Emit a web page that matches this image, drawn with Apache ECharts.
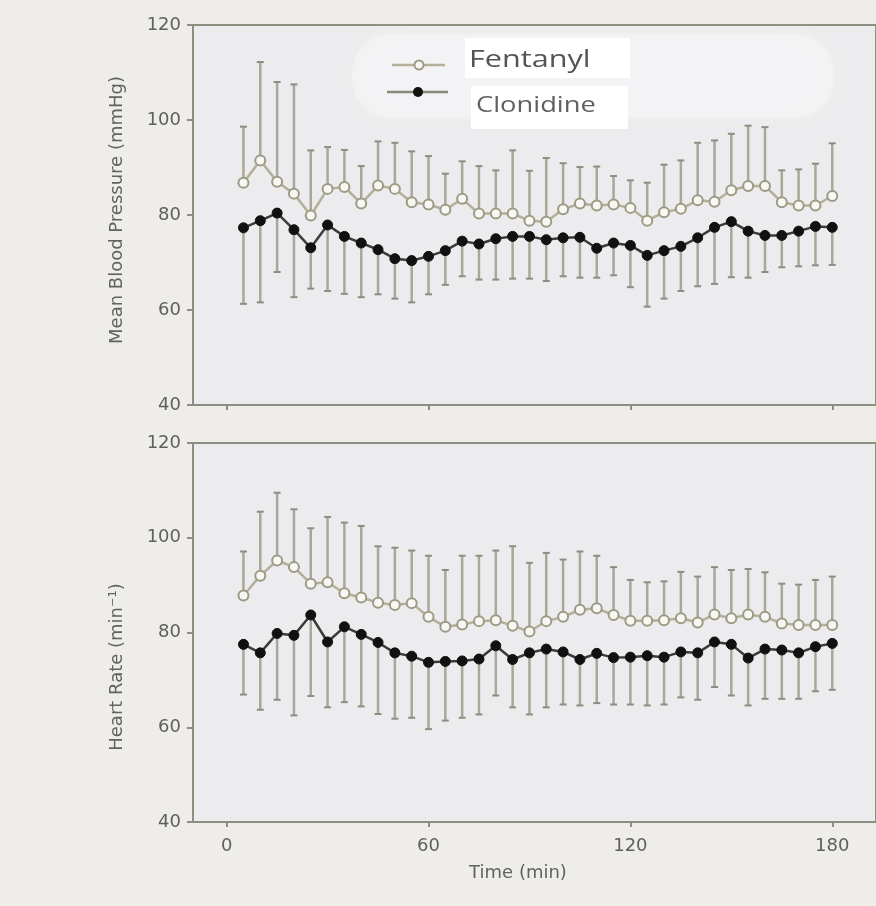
<!DOCTYPE html>
<html>
<head>
<meta charset="utf-8">
<script src="https://cdn.jsdelivr.net/npm/echarts@6/dist/echarts.min.js"></script>
<style>
  html, body { margin: 0; padding: 0; background: #eeede9; }
  #chart { width: 876px; height: 906px; }
</style>
</head>
<body>
<div id="chart"></div>
<script>
// Sampling times (min)
const timeMin = [5, 10, 15, 20, 25, 30, 35, 40, 45, 50, 55, 60, 65, 70, 75, 80, 85, 90,
                 95, 100, 105, 110, 115, 120, 125, 130, 135, 140, 145, 150, 155, 160, 165, 170, 175, 180];

// Mean blood pressure (mmHg): group means and the end of the SD bar
const mbpFentanyl = [86.8, 91.5, 87.0, 84.5, 79.9, 85.5, 85.9, 82.4, 86.2, 85.5, 82.7, 82.2, 81.1, 83.4, 80.3, 80.3, 80.3, 78.8,
                     78.6, 81.2, 82.4, 82.0, 82.2, 81.5, 78.8, 80.6, 81.3, 83.1, 82.8, 85.2, 86.1, 86.1, 82.7, 82.0, 82.0, 84.0];
const mbpFentanylUpper = [98.6, 112.2, 108.0, 107.5, 93.6, 94.3, 93.7, 90.3, 95.5, 95.2, 93.4, 92.4, 88.7, 91.3, 90.3, 89.4, 93.6, 89.3,
                          92.0, 90.9, 90.1, 90.2, 88.2, 87.3, 86.8, 90.6, 91.5, 95.2, 95.7, 97.1, 98.8, 98.5, 89.4, 89.6, 90.8, 95.1];
const mbpClonidine = [77.3, 78.8, 80.4, 76.9, 73.1, 77.9, 75.5, 74.1, 72.7, 70.8, 70.4, 71.3, 72.5, 74.5, 73.9, 75.0, 75.5, 75.5,
                      74.8, 75.2, 75.3, 73.0, 74.1, 73.6, 71.5, 72.5, 73.4, 75.2, 77.4, 78.6, 76.6, 75.7, 75.7, 76.6, 77.6, 77.4];
const mbpClonidineLower = [61.3, 61.6, 68.0, 62.7, 64.5, 64.0, 63.4, 62.7, 63.3, 62.4, 61.6, 63.3, 65.3, 67.1, 66.4, 66.4, 66.6, 66.6,
                           66.1, 67.1, 66.8, 66.8, 67.3, 64.8, 60.7, 62.4, 64.0, 65.0, 65.5, 66.9, 66.8, 68.0, 69.0, 69.2, 69.4, 69.5];

// Heart rate (min^-1)
const hrFentanyl = [87.8, 92.0, 95.2, 93.8, 90.3, 90.6, 88.3, 87.4, 86.3, 85.8, 86.2, 83.3, 81.2, 81.7, 82.4, 82.6, 81.4, 80.2,
                    82.4, 83.3, 84.8, 85.1, 83.7, 82.5, 82.5, 82.6, 83.0, 82.1, 83.8, 83.0, 83.8, 83.3, 81.9, 81.6, 81.6, 81.6];
const hrFentanylUpper = [97.1, 105.5, 109.5, 106.0, 102.0, 104.4, 103.2, 102.5, 98.2, 97.9, 97.3, 96.2, 93.2, 96.2, 96.2, 97.3, 98.2, 94.7,
                         96.8, 95.4, 97.1, 96.2, 93.8, 91.1, 90.6, 90.8, 92.8, 91.8, 93.8, 93.2, 93.4, 92.7, 90.3, 90.1, 91.1, 91.8];
const hrClonidine = [77.5, 75.7, 79.8, 79.4, 83.7, 78.0, 81.2, 79.6, 77.9, 75.7, 75.0, 73.7, 73.9, 74.0, 74.4, 77.2, 74.3, 75.7,
                     76.5, 75.9, 74.3, 75.6, 74.7, 74.8, 75.1, 74.8, 75.9, 75.7, 78.0, 77.5, 74.6, 76.5, 76.3, 75.7, 77.0, 77.7];
const hrClonidineLower = [66.9, 63.7, 65.8, 62.5, 66.6, 64.2, 65.3, 64.4, 62.8, 61.8, 62.0, 59.6, 61.4, 62.0, 62.7, 66.7, 64.2, 62.7,
                          64.2, 64.8, 64.6, 65.1, 64.8, 64.8, 64.6, 64.8, 66.3, 65.8, 68.5, 66.7, 64.6, 66.0, 66.0, 66.0, 67.6, 67.9];

// Axis ticks
const xTicks = [0, 60, 120, 180];
const seriesNames = ['Fentanyl', 'Clonidine'];

const AXIS_COLOR = '#8f8d7f';
const LABEL_COLOR = '#5f5f5b';
const FONT = 'DejaVu Sans';
const FENT_LINE = '#b3af98';
const FENT_EDGE = '#9d9a84';
const CLON_LINE = '#3c3b35';
const BAR_COLOR = '#a9a798';
const CAP_COLOR = '#8f8d80';

const chart = echarts.init(document.getElementById('chart'), null, { renderer: 'canvas' });

function zip(a, b) { return timeMin.map((t, i) => [t, a[i], b ? b[i] : undefined]); }

function gridOf(top, height) {
  return {
    left: 193, top: top, width: 700.35, height: height,
    show: true, borderColor: AXIS_COLOR, borderWidth: 2, backgroundColor: '#ececee'
  };
}

function xAxisOf(gridIndex, withLabels) {
  return {
    type: 'value', gridIndex: gridIndex, min: -10, max: 193,
    axisLine: { show: true, onZero: false, lineStyle: { color: AXIS_COLOR, width: 2 } },
    axisTick: { show: true, length: 5, customValues: xTicks, lineStyle: { color: AXIS_COLOR, width: 2 } },
    axisLabel: {
      show: withLabels, customValues: xTicks, margin: 15,
      color: LABEL_COLOR, fontFamily: FONT, fontSize: 18
    },
    splitLine: { show: false }
  };
}

function yAxisOf(gridIndex) {
  return {
    type: 'value', gridIndex: gridIndex, min: 40, max: 120, interval: 20,
    axisLine: { show: true, onZero: false, lineStyle: { color: AXIS_COLOR, width: 2 } },
    axisTick: { show: true, length: 6, lineStyle: { color: AXIS_COLOR, width: 2 } },
    axisLabel: { margin: 12, color: LABEL_COLOR, fontFamily: FONT, fontSize: 18 },
    splitLine: { show: false }
  };
}

// Vertical SD bar from the mean to its end, with a short cap
function renderSdBar(params, api) {
  const t = api.value(0);
  const p0 = api.coord([t, api.value(1)]);
  const p1 = api.coord([t, api.value(2)]);
  const hw = 3.5;
  return {
    type: 'group',
    children: [
      { type: 'line', shape: { x1: p0[0], y1: p0[1], x2: p1[0], y2: p1[1] },
        style: { stroke: BAR_COLOR, lineWidth: 2.5 } },
      { type: 'line', shape: { x1: p1[0] - hw, y1: p1[1], x2: p1[0] + hw, y2: p1[1] },
        style: { stroke: CAP_COLOR, lineWidth: 2 } }
    ]
  };
}

function sdSeries(idx, means, ends) {
  return {
    type: 'custom', xAxisIndex: idx, yAxisIndex: idx, z: 2,
    renderItem: renderSdBar,
    encode: { x: 0, y: [1, 2] },
    data: zip(means, ends),
    silent: true
  };
}

function fentanylSeries(idx, means) {
  return {
    name: seriesNames[0], type: 'line', xAxisIndex: idx, yAxisIndex: idx, z: 4,
    data: zip(means).map(d => [d[0], d[1]]),
    symbol: 'circle', symbolSize: 10,
    lineStyle: { color: FENT_LINE, width: 2.5 },
    itemStyle: { color: '#f7f7f3', borderColor: FENT_EDGE, borderWidth: 2 },
    animation: false
  };
}

function clonidineSeries(idx, means) {
  return {
    name: seriesNames[1], type: 'line', xAxisIndex: idx, yAxisIndex: idx, z: 5,
    data: zip(means).map(d => [d[0], d[1]]),
    symbol: 'circle', symbolSize: 10,
    lineStyle: { color: CLON_LINE, width: 2.5 },
    itemStyle: { color: '#111111', borderColor: '#111111', borderWidth: 1 },
    animation: false
  };
}

const titleStyle = { fill: '#62625e', font: '18px "DejaVu Sans"', textAlign: 'center', textVerticalAlign: 'middle' };

chart.setOption({
  backgroundColor: '#eeede9',
  animation: false,
  grid: [gridOf(25, 380), gridOf(443, 379)],
  xAxis: [xAxisOf(0, false), xAxisOf(1, true)],
  yAxis: [yAxisOf(0), yAxisOf(1)],
  series: [
    sdSeries(0, mbpFentanyl, mbpFentanylUpper),
    sdSeries(0, mbpClonidine, mbpClonidineLower),
    fentanylSeries(0, mbpFentanyl),
    clonidineSeries(0, mbpClonidine),
    sdSeries(1, hrFentanyl, hrFentanylUpper),
    sdSeries(1, hrClonidine, hrClonidineLower),
    fentanylSeries(1, hrFentanyl),
    clonidineSeries(1, hrClonidine)
  ],
  graphic: [
    // soft light patch behind the key
    { type: 'rect', z: 1, shape: { x: 352, y: 34, width: 482, height: 84, r: 40 },
      style: { fill: 'rgba(246,246,247,0.55)', shadowBlur: 16, shadowColor: 'rgba(248,248,248,0.7)' } },
    // key
    { type: 'line', z: 20, shape: { x1: 392, y1: 65, x2: 445, y2: 65 }, style: { stroke: FENT_LINE, lineWidth: 2.5 } },
    { type: 'circle', z: 21, shape: { cx: 419, cy: 65, r: 4.5 }, style: { fill: '#f7f7f3', stroke: FENT_EDGE, lineWidth: 2 } },
    { type: 'line', z: 20, shape: { x1: 387, y1: 92, x2: 448, y2: 92 }, style: { stroke: '#8a887a', lineWidth: 2.5 } },
    { type: 'circle', z: 21, shape: { cx: 418, cy: 92, r: 5 }, style: { fill: '#111111' } },
    { type: 'rect', z: 20, shape: { x: 465, y: 38, width: 165, height: 40 }, style: { fill: '#ffffff' } },
    { type: 'rect', z: 20, shape: { x: 471, y: 86, width: 157, height: 43 }, style: { fill: '#ffffff' } },
    { type: 'text', z: 22, x: 469, y: 60, scaleX: 1.33,
      style: { text: seriesNames[0], fill: '#545454', font: '23px "Open Sans"', textVerticalAlign: 'middle' } },
    { type: 'text', z: 22, x: 476, y: 106, scaleX: 1.3,
      style: { text: seriesNames[1], fill: '#606060', font: '21px "Open Sans"', textVerticalAlign: 'middle' } },
    // axis titles
    { type: 'text', z: 22, x: 117, y: 210, rotation: Math.PI / 2, style: Object.assign({ text: 'Mean Blood Pressure (mmHg)' }, titleStyle) },
    { type: 'text', z: 22, x: 117, y: 667, rotation: Math.PI / 2, style: Object.assign({ text: 'Heart Rate (min⁻¹)' }, titleStyle) },
    { type: 'text', z: 22, x: 518, y: 873, style: Object.assign({ text: 'Time (min)' }, titleStyle) }
  ]
});
</script>
</body>
</html>
